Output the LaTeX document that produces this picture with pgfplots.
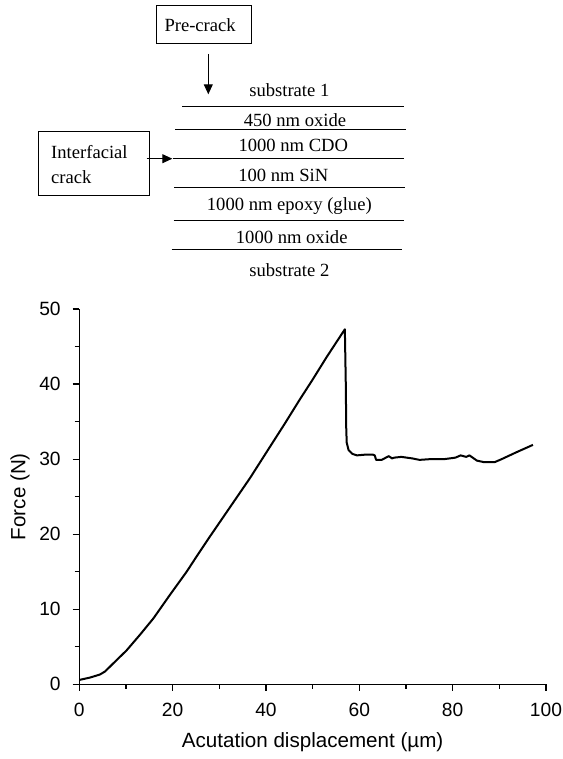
\documentclass[border=0pt]{standalone}
\usepackage{fontspec}
\setmainfont{Liberation Sans}
\newfontfamily\timesfont{Liberation Serif}
\usepackage{pgfplots}
\pgfplotsset{compat=1.18}
\usetikzlibrary{arrows.meta}
\begin{document}
\begin{tikzpicture}
\useasboundingbox (0pt,0pt) rectangle (281pt,-379.5pt);
\begin{scope}[x=0.5pt,y=-0.5pt,line width=0.5pt,
  lbl/.style={font=\timesfont\fontsize{9.3}{11}\selectfont,inner sep=0pt}]
% Pre-crack box
\draw (156.7,5.7) rectangle (251,43.7);
\node[lbl,anchor=west] at (164,25) {Pre-crack};
\draw[-{Triangle[length=5pt,width=4.5pt]}] (208.3,54) -- (208.3,94.3);
% layers
\node[lbl] at (289.3,90) {substrate 1};
\draw (182,107) -- (404,107);
\node[lbl] at (295,120) {450 nm oxide};
\draw (175.3,129.7) -- (405.7,129.7);
\node[lbl] at (293.3,145) {1000 nm CDO};
\draw (173.3,158.7) -- (404.3,158.7);
\node[lbl] at (283.3,175) {100 nm SiN};
\draw (174,187.7) -- (405,187.7);
\node[lbl] at (289.3,205.7) {1000 nm epoxy (glue)};
\draw (173.7,220.7) -- (404.3,220.7);
\node[lbl] at (291.7,237.3) {1000 nm oxide};
\draw (171.7,249.7) -- (402.3,249.7);
\node[lbl] at (289.3,270) {substrate 2};
% Interfacial crack box
\draw (38.3,132) rectangle (149,195.3);
\node[lbl,anchor=west] at (50.7,152.3) {Interfacial};
\node[lbl,anchor=west] at (50.7,176.7) {crack};
\draw[-{Triangle[length=5pt,width=4.5pt]}] (146.7,158.7) -- (172.3,158.7);
\end{scope}
\begin{axis}[
  at={(39.65pt,-342.15pt)}, anchor=south west,
  scale only axis, width=233.35pt, height=187.65pt,
  xmin=0, xmax=100, ymin=0, ymax=50,
  axis lines*=left,
  axis line style={line width=0.6pt},
  tick style={line width=0.6pt, black},
  tick align=outside,
  major tick length=3.3pt, minor tick length=2.3pt,
  xtick={0,20,...,100}, ytick={0,10,...,50},
  minor tick num=1,
  /pgf/number format/assume math mode=true,
  ticklabel style={font=\fontsize{9.6}{11}\selectfont},
  xticklabel style={yshift=-2.5pt},
  yticklabel style={xshift=-2.5pt},
  label style={font=\fontsize{10.3}{12}\selectfont},
  xlabel style={yshift=-1pt},
  ylabel style={yshift=-2pt},
  xlabel={Acutation displacement (µm)},
  ylabel={Force (N)},
  clip=false,
]
\addplot[black, line width=1pt, line join=round] coordinates {
(0,0.58) (2.3,0.9) (4.4,1.3) (5.5,1.7) (7.3,2.8) (10.1,4.5) (13.0,6.6) (15.9,8.8) (19.4,11.9) (23,15.0) (25.1,17.0) (28,19.7) (32.3,23.6) (36.6,27.5) (40.5,31.3) (44,34.7) (47.2,37.9) (50,40.6) (53,43.6) (56.9,47.3) (57.1,40) (57.2,34) (57.3,32.2) (57.7,31.2) (58.5,30.7) (59.5,30.5) (61.3,30.6) (62.9,30.6) (63.3,30.5) (63.6,29.9) (64.8,29.9) (66.3,30.4) (67.0,30.1) (67.5,30.2) (69,30.3) (71.3,30.1) (72.9,29.9) (75.2,30.0) (78.2,30.0) (80.6,30.2) (81.7,30.5) (82.9,30.3) (83.6,30.5) (85.2,29.8) (86.7,29.6) (89,29.6) (90.5,30.0) (93.6,30.9) (97.2,31.9)
};
\end{axis}
\end{tikzpicture}
\end{document}
